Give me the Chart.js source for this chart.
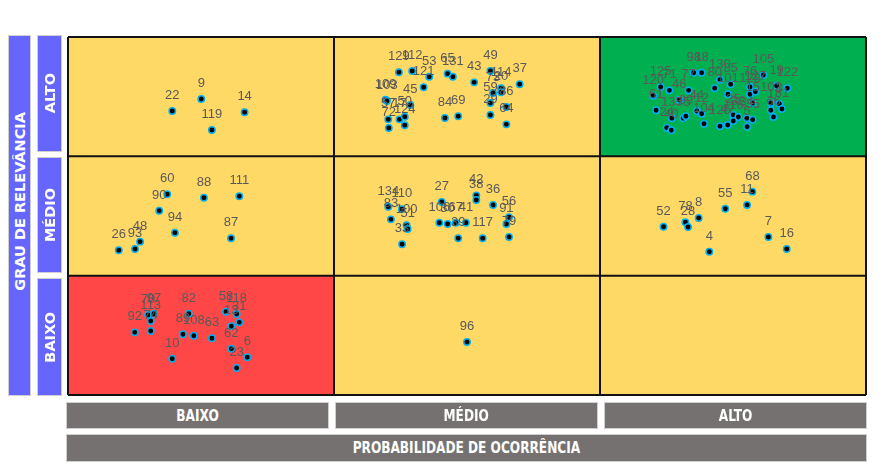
<!DOCTYPE html>
<html>
<head>
<meta charset="utf-8">
<script src="https://cdn.jsdelivr.net/npm/chart.js@4"></script>
<style>
  body { margin: 0; background: #fff; }
  #wrap { position: relative; width: 886px; height: 466px; }
  #riskChart { position: absolute; left: 0; top: 0; }
  .box {
    position: absolute; box-sizing: border-box; color: #fff; font-weight: bold;
    display: flex; align-items: center; justify-content: center;
    border: 1px solid #cfcfcf; white-space: nowrap;
  }
  .blue { background: #6666ff; font-family: 'DejaVu Sans', sans-serif; font-size: 14.5px; }
  .blue span { writing-mode: vertical-rl; transform: rotate(180deg); }
  .gray {
    background: #767171; font-family: 'DejaVu Sans Condensed', 'DejaVu Sans', sans-serif;
    font-stretch: condensed; font-size: 15px;
  }
  .gray span { display: inline-block; transform: scaleX(0.9); }
</style>
</head>
<body>
<div id="wrap">
  <canvas id="riskChart" width="886" height="466"></canvas>

  <div class="box blue" style="left:8px; top:35px; width:23px; height:361px; padding-bottom:28px;"><span>GRAU DE RELEVÂNCIA</span></div>
  <div class="box blue" style="left:37px; top:35px; width:25px; height:117px;"><span>ALTO</span></div>
  <div class="box blue" style="left:37px; top:157px; width:25px; height:116px;"><span>MÉDIO</span></div>
  <div class="box blue" style="left:37px; top:278px; width:25px; height:118px;"><span>BAIXO</span></div>

  <div class="box gray" style="left:66px; top:402px; width:263px; height:27px;"><span>BAIXO</span></div>
  <div class="box gray" style="left:335px; top:402px; width:263px; height:27px;"><span>MÉDIO</span></div>
  <div class="box gray" style="left:604px; top:402px; width:263px; height:27px;"><span>ALTO</span></div>
  <div class="box gray" style="left:66px; top:434px; width:801px; height:28px;"><span>PROBABILIDADE DE OCORRÊNCIA</span></div>
</div>

<script>
// levels of both axes (0 = baixo, 1 = médio, 2 = alto)
const probLevels = ['BAIXO', 'MÉDIO', 'ALTO'];
const relevLevels = ['BAIXO', 'MÉDIO', 'ALTO'];

// risk number shown above each point
const riskIds = [
  22, 9, 14, 119,
  129, 112, 53, 121, 65, 131, 43, 49, 114, 20, 73, 37, 59, 29, 86, 64, 109, 103, 45, 57, 17, 50, 72, 124, 84, 69,
  98, 18, 105, 130, 85, 80, 76, 19, 122, 125, 71, 77, 120, 46, 101, 128, 127, 102, 3, 81, 1, 66, 61, 135, 75, 99,
  44, 12, 104, 24, 40, 126, 47, 25, 32, 34, 35, 5, 116, 15,
  60, 90, 88, 111, 94, 87, 48, 93, 26,
  134, 110, 83, 100, 51, 33, 27, 106, 30, 67, 41, 39, 117, 42, 38, 36, 56, 91, 79,
  68, 11, 55, 8, 78, 28, 52, 4, 7, 16,
  70, 97, 113, 74, 92, 82, 89, 108, 63, 10, 58, 118, 31, 13, 62, 6, 23,
  96
];

// probabilidade de ocorrência (x)
const probability = [
  0.392, 0.501, 0.664, 0.541,
  1.244, 1.294, 1.358, 1.337, 1.427, 1.447, 1.527, 1.588, 1.628, 1.628, 1.598, 1.698, 1.588, 1.588, 1.648, 1.648,
  1.194, 1.199, 1.287, 1.204, 1.246, 1.266, 1.206, 1.266, 1.417, 1.467,
  2.352, 2.382, 2.614, 2.451, 2.491, 2.431, 2.564, 2.664, 2.704, 2.228, 2.261, 2.333, 2.200, 2.298, 2.481, 2.564,
  2.584, 2.642, 2.674, 2.684, 2.642, 2.652, 2.211, 2.270, 2.313, 2.323,
  2.364, 2.382, 2.391, 2.251, 2.268, 2.451, 2.480, 2.501, 2.520, 2.552, 2.574, 2.553, 2.501, 2.574,
  0.373, 0.343, 0.511, 0.644, 0.402, 0.613, 0.271, 0.252, 0.191,
  1.204, 1.255, 1.214, 1.273, 1.277, 1.256, 1.405, 1.396, 1.427, 1.458, 1.496, 1.467, 1.559, 1.535, 1.535, 1.598,
  1.658, 1.648, 1.658,
  2.573, 2.553, 2.471, 2.371, 2.321, 2.331, 2.239, 2.411, 2.633, 2.702,
  0.301, 0.323, 0.311, 0.311, 0.251, 0.454, 0.432, 0.473, 0.541, 0.392, 0.594, 0.634, 0.644, 0.614, 0.614, 0.674, 0.634,
  1.500
];

// grau de relevância (y)
const relevance = [
  2.380, 2.480, 2.369, 2.221,
  2.704, 2.715, 2.667, 2.579, 2.693, 2.667, 2.620, 2.715, 2.570, 2.537, 2.531, 2.604, 2.447, 2.346, 2.413, 2.268,
  2.475, 2.464, 2.430, 2.310, 2.310, 2.332, 2.237, 2.260, 2.321, 2.336,
  2.701, 2.701, 2.682, 2.642, 2.604, 2.570, 2.581, 2.592, 2.570, 2.581, 2.553, 2.553, 2.508, 2.475, 2.520, 2.520,
  2.542, 2.447, 2.441, 2.397, 2.386, 2.330, 2.386, 2.319, 2.319, 2.336,
  2.380, 2.357, 2.273, 2.240, 2.218, 2.252, 2.263, 2.346, 2.330, 2.319, 2.307, 2.248, 2.296, 2.447,
  1.682, 1.544, 1.653, 1.665, 1.360, 1.313, 1.285, 1.223, 1.213,
  1.578, 1.556, 1.472, 1.422, 1.391, 1.263, 1.617, 1.444, 1.433, 1.444, 1.444, 1.313, 1.313, 1.673, 1.634, 1.592,
  1.489, 1.433, 1.324,
  1.704, 1.592, 1.561, 1.483, 1.447, 1.408, 1.410, 1.201, 1.324, 1.223,
  0.670, 0.681, 0.620, 0.536, 0.525, 0.681, 0.509, 0.497, 0.475, 0.304, 0.698, 0.679, 0.609, 0.576, 0.388, 0.316, 0.226,
  0.444
];

// cell fill per [relevância][probabilidade]
const cellColors = [
  ['#ff4747', '#ffd966', '#ffd966'],
  ['#ffd966', '#ffd966', '#ffd966'],
  ['#ffd966', '#ffd966', '#00b050']
];

const points = riskIds.map((id, i) => ({ x: probability[i], y: relevance[i] }));

// colored matrix cells + black grid behind the points
const matrixPlugin = {
  id: 'matrix',
  beforeDatasetsDraw(chart) {
    const { ctx, scales: { x, y } } = chart;
    ctx.save();
    for (let r = 0; r < relevLevels.length; r++) {
      for (let c = 0; c < probLevels.length; c++) {
        const x0 = x.getPixelForValue(c), x1 = x.getPixelForValue(c + 1);
        const y0 = y.getPixelForValue(r + 1), y1 = y.getPixelForValue(r);
        ctx.fillStyle = cellColors[r][c];
        ctx.fillRect(x0, y0, x1 - x0, y1 - y0);
      }
    }
    ctx.strokeStyle = '#111';
    ctx.lineWidth = 2;
    for (let i = 0; i <= probLevels.length; i++) {
      const px = x.getPixelForValue(i);
      ctx.beginPath();
      ctx.moveTo(px, y.getPixelForValue(3));
      ctx.lineTo(px, y.getPixelForValue(0));
      ctx.stroke();
    }
    for (let i = 0; i <= relevLevels.length; i++) {
      const py = y.getPixelForValue(i);
      ctx.beginPath();
      ctx.moveTo(x.getPixelForValue(0), py);
      ctx.lineTo(x.getPixelForValue(3), py);
      ctx.stroke();
    }
    ctx.restore();
  }
};

// risk number above each point
const labelPlugin = {
  id: 'riskLabels',
  afterDatasetsDraw(chart) {
    const { ctx } = chart;
    const meta = chart.getDatasetMeta(0);
    ctx.save();
    ctx.font = '13px "Liberation Sans", Arial, sans-serif';
    ctx.fillStyle = '#595959';
    ctx.textAlign = 'center';
    ctx.textBaseline = 'alphabetic';
    meta.data.forEach((pt, i) => {
      ctx.fillText(String(riskIds[i]), pt.x, pt.y - 12);
    });
    ctx.restore();
  }
};

new Chart(document.getElementById('riskChart').getContext('2d'), {
  type: 'scatter',
  data: {
    datasets: [
      {
        label: 'Riscos',
        data: points,
        backgroundColor: '#000',
        borderColor: '#00b0f0',
        borderWidth: 1.5,
        pointRadius: 3.2,
        pointHoverRadius: 3.2
      }
    ]
  },
  options: {
    responsive: false,
    animation: false,
    devicePixelRatio: 1,
    layout: { padding: { left: 68, top: 37, right: 20, bottom: 71 } },
    plugins: {
      legend: { display: false },
      tooltip: { enabled: false }
    },
    scales: {
      x: { type: 'linear', min: 0, max: 3, display: false },
      y: { type: 'linear', min: 0, max: 3, display: false }
    }
  },
  plugins: [matrixPlugin, labelPlugin]
});
</script>
</body>
</html>
